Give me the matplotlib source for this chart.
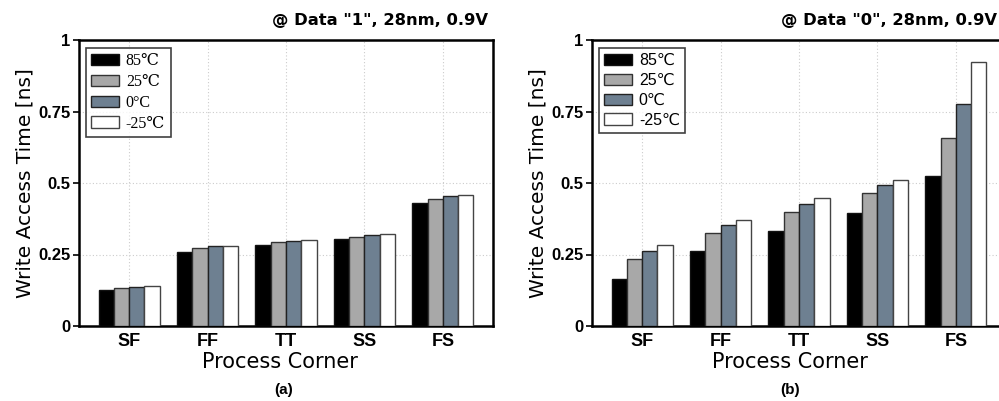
import matplotlib
matplotlib.use("Agg")
import matplotlib.pyplot as plt
import numpy as np

corners = ["SF", "FF", "TT", "SS", "FS"]
temps_a = ["85\u2103", "25\u2103", "0\u00b0C", "-25\u2103"]
temps_b = ["85\u2103", "25\u2103", "0\u2103", "-25\u2103"]

# write access time [ns], data "1"
data1_85 = [0.125, 0.260, 0.282, 0.303, 0.430]
data1_25 = [0.134, 0.273, 0.292, 0.312, 0.445]
data1_0 = [0.138, 0.278, 0.297, 0.317, 0.456]
data1_m25 = [0.141, 0.281, 0.301, 0.322, 0.459]

# write access time [ns], data "0"
data0_85 = [0.165, 0.261, 0.333, 0.395, 0.524]
data0_25 = [0.234, 0.326, 0.400, 0.466, 0.659]
data0_0 = [0.261, 0.352, 0.426, 0.492, 0.775]
data0_m25 = [0.282, 0.369, 0.447, 0.512, 0.924]

yticks = [0, 0.25, 0.5, 0.75, 1]
ytick_labels = ["0", "0.25", "0.5", "0.75", "1"]

colors = ["#000000", "#a8a8a8", "#6e8091", "#ffffff"]
edges = ["#111111", "#333333", "#222222", "#444444"]
FONT = ["Liberation Sans", "DejaVu Sans"]
WIDE = ["DejaVu Sans"]
plt.rcParams["font.family"] = FONT

fig = plt.figure(figsize=(9.99, 4.01), dpi=100)
W, H = 999, 401


def px_axes(x0, y0, x1, y1):
    return fig.add_axes([x0 / W, 1 - y1 / H, (x1 - x0) / W, (y1 - y0) / H])


def panel(ax, series, labels, title, title_x, legend_family, letter, cx, lx):
    x = np.arange(len(corners))
    bw = 0.195
    for i, (vals, lab) in enumerate(zip(series, labels)):
        ax.bar(x + (i - 1.5) * bw, vals, width=bw, color=colors[i],
               edgecolor=edges[i], linewidth=1.0, label=lab, zorder=3)
    ax.set_xlim(-0.64, 4.64)
    ax.set_ylim(0, 1)
    ax.set_yticks(yticks)
    ax.set_yticklabels(ytick_labels, fontsize=12, fontweight="bold")
    ax.set_xticks(x)
    ax.set_xticklabels(corners, fontsize=13, fontweight="bold")
    ax.tick_params(axis="x", length=0, pad=5)
    ax.tick_params(axis="y", direction="out", length=4, width=1.2, pad=2)
    ax.grid(True, linestyle=(0, (1, 2)), color="#cccccc", linewidth=0.8, zorder=0)
    for s in ax.spines.values():
        s.set_linewidth(1.8)
    ax.set_ylabel("Write Access Time [ns]", fontsize=14.5, labelpad=3,
                  family=WIDE)
    leg = ax.legend(loc="upper left", bbox_to_anchor=(0.005, 0.99),
                    frameon=True, fancybox=False, edgecolor="#111111",
                    handlelength=1.75, handleheight=0.7, handletextpad=0.4,
                    labelspacing=0.3, borderpad=0.35, borderaxespad=0.3,
                    prop={"family": legend_family, "size": 11.5})
    leg.get_frame().set_linewidth(1.2)
    fig.text(title_x / W, 1 - 21 / H, title, ha="right", va="center",
             fontsize=11.8, fontweight="bold", family=WIDE)
    fig.text(cx / W, 1 - 362 / H, "Process Corner", ha="center", va="center",
             fontsize=15, family=WIDE)
    fig.text(lx / W, 1 - 390 / H, letter, ha="center", va="center",
             fontsize=11, fontweight="bold")


ax1 = px_axes(79, 40, 493, 326)
panel(ax1, [data1_85, data1_25, data1_0, data1_m25], temps_a,
      '@ Data "1", 28nm, 0.9V', 488, ["Liberation Serif", "DejaVu Serif"],
      "(a)", 280, 284)

ax2 = px_axes(592, 40, 1006, 326)
panel(ax2, [data0_85, data0_25, data0_0, data0_m25], temps_b,
      '@ Data "0", 28nm, 0.9V', 997, FONT, "(b)", 790, 790)

fig.savefig("out.png", dpi=100)
